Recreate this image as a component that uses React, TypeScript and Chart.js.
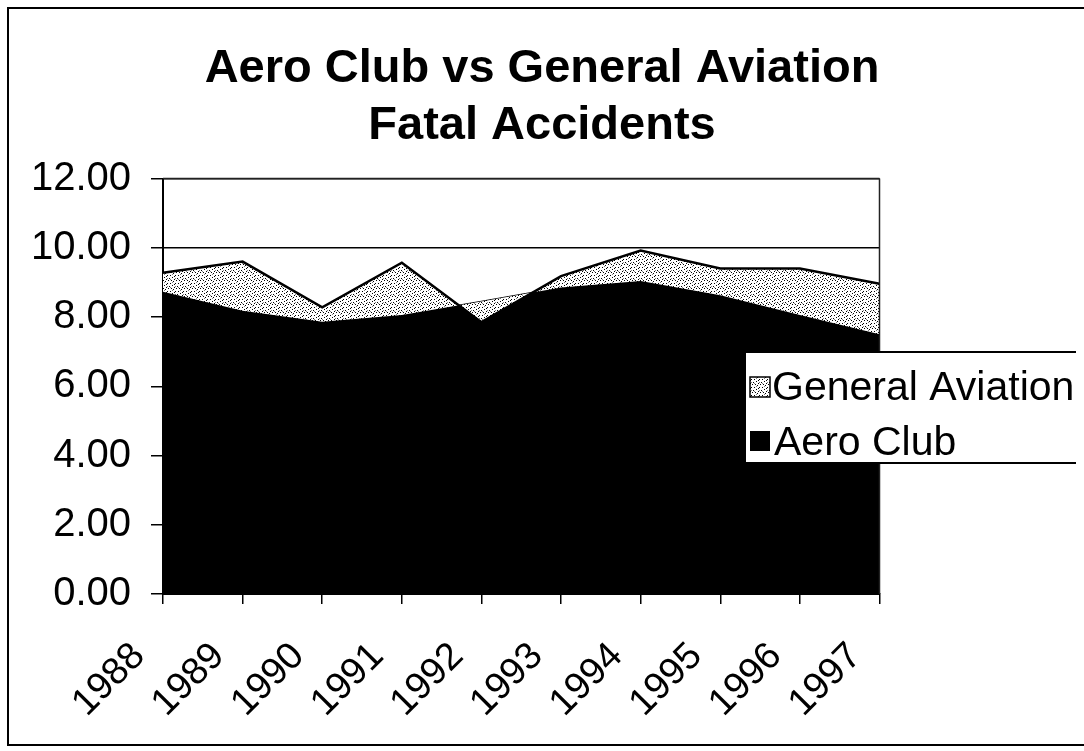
import React, { useEffect, useRef } from "react";
import { Chart, registerables } from "chart.js";

Chart.register(...registerables);

const years = ["1988", "1989", "1990", "1991", "1992", "1993", "1994", "1995", "1996", "1997"];
const generalAviation = [9.28, 9.6, 8.28, 9.57, 7.85, 9.18, 9.92, 9.4, 9.4, 8.96];
const aeroClub = [8.73, 8.18, 7.86, 8.06, 8.45, 8.85, 9.04, 8.63, 8.06, 7.5];
const titleLines = ["Aero Club vs General Aviation", "Fatal Accidents"];
const legendLabels = ["General Aviation", "Aero Club"];
const yMin = 0;
const yMax = 12;
const yStep = 2;

const FONT = "'Liberation Sans', Arial, Helvetica, sans-serif";

function makeDots(): CanvasPattern | string {
  const size = 8;
  const c = document.createElement("canvas");
  c.width = size;
  c.height = size;
  const g = c.getContext("2d");
  if (!g) return "#d0d0d0";
  g.fillStyle = "#ffffff";
  g.fillRect(0, 0, size, size);
  g.fillStyle = "#000000";
  const pts = [
    [0, 0],
    [5, 1],
    [2, 3],
    [7, 3],
    [4, 5],
    [1, 6],
    [6, 7],
    [3, 0],
    [6, 4],
  ];
  pts.forEach(([x, y]) => g.fillRect(x, y, 1, 1));
  g.fillStyle = "rgba(0,0,0,0.5)";
  [
    [2, 7],
    [7, 6],
    [4, 2],
  ].forEach(([x, y]) => g.fillRect(x, y, 1, 1));
  const p = g.createPattern(c, "repeat");
  return p || "#d0d0d0";
}

export default function App() {
  const ref = useRef<HTMLCanvasElement | null>(null);

  useEffect(() => {
    const canvas = ref.current;
    if (!canvas) return;
    const dots = makeDots();

    const decor = {
      id: "decor",
      afterDatasetsDraw(chart: any) {
        const { ctx, chartArea } = chart;
        ctx.save();
        ctx.strokeStyle = "#222";
        ctx.lineWidth = 1.5;
        ctx.beginPath();
        ctx.moveTo(chartArea.right, chartArea.top);
        ctx.lineTo(chartArea.right, chartArea.bottom);
        ctx.moveTo(chartArea.left, chartArea.top);
        ctx.lineTo(chartArea.right, chartArea.top);
        ctx.stroke();
        ctx.restore();
      },
      afterDraw(chart: any) {
        const { ctx } = chart;
        ctx.save();
        // title
        ctx.fillStyle = "#000";
        ctx.textAlign = "center";
        ctx.textBaseline = "alphabetic";
        ctx.font = `bold 47px ${FONT}`;
        ctx.fillText(titleLines[0], 534, 74);
        ctx.fillText(titleLines[1], 534, 131);
        // legend
        ctx.fillStyle = "#fff";
        ctx.fillRect(737, 344, 400, 111);
        ctx.strokeStyle = "#000";
        ctx.lineWidth = 2;
        ctx.strokeRect(737, 344, 400, 111);
        ctx.fillStyle = dots as any;
        ctx.fillRect(742, 369, 20, 20);
        ctx.lineWidth = 1.5;
        ctx.strokeRect(742, 369, 20, 20);
        ctx.fillStyle = "#000";
        ctx.fillRect(742, 423, 20, 20);
        ctx.textAlign = "left";
        ctx.font = `41px ${FONT}`;
        ctx.fillText(legendLabels[0], 764, 392);
        ctx.fillText(legendLabels[1], 766, 447);
        ctx.restore();
      },
    };

    const chart = new Chart(canvas, {
      type: "line",
      data: {
        labels: years,
        datasets: [
          {
            label: legendLabels[0],
            data: generalAviation,
            borderColor: "#000",
            borderWidth: 2.5,
            backgroundColor: dots as any,
            fill: 1 as any,
            pointRadius: 0,
            tension: 0,
          },
          {
            label: legendLabels[1],
            data: aeroClub,
            borderColor: "#000",
            borderWidth: 1.5,
            backgroundColor: "#000",
            fill: "origin",
            pointRadius: 0,
            tension: 0,
          },
        ],
      },
      options: {
        responsive: false,
        animation: false,
        layout: { padding: { left: 20, right: 204.5, top: 170.5, bottom: 4 } },
        plugins: {
          legend: { display: false },
          title: { display: false },
          tooltip: { enabled: false },
        },
        scales: {
          x: {
            type: "category",
            offset: false,
            grid: {
              drawOnChartArea: false,
              drawTicks: true,
              tickLength: 10,
              color: "#000",
              lineWidth: 1.5,
            },
            border: { color: "#000", width: 2 },
            ticks: {
              color: "#000",
              font: { family: FONT, size: 38 },
              maxRotation: 45,
              minRotation: 45,
              autoSkip: false,
              padding: 30,
              labelOffset: -24,
            },
            afterFit(scale: any) {
              scale.height = 145;
            },
          },
          y: {
            min: yMin,
            max: yMax,
            grid: {
              color: "#000",
              lineWidth: 1.5,
              tickLength: 12,
            },
            border: { color: "#000", width: 2 },
            ticks: {
              stepSize: yStep,
              color: "#000",
              font: { family: FONT, size: 40 },
              padding: 20,
              callback: (v: any) => Number(v).toFixed(2),
            },
            afterFit(scale: any) {
              scale.width = 135;
            },
          },
        },
      },
      plugins: [decor],
    });
    return () => chart.destroy();
  }, []);

  return (
    <div style={{ position: "relative", width: 1076, height: 735 }}>
      <canvas ref={ref} width={1076} height={735} style={{ display: "block" }} />
      <div
        style={{
          position: "fixed",
          left: 7,
          top: 7,
          width: 1090,
          height: 739,
          boxSizing: "border-box",
          border: "2px solid #000",
          pointerEvents: "none",
        }}
      />
    </div>
  );
}
